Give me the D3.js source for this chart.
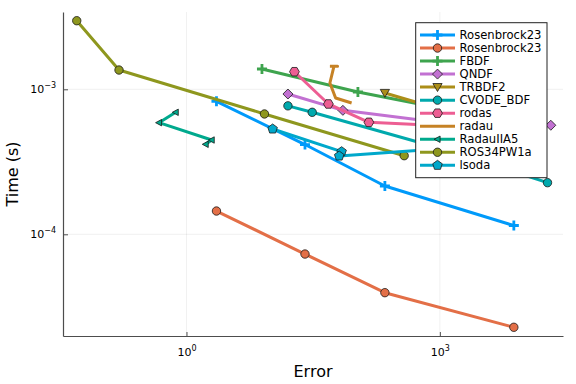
<!DOCTYPE html>
<html>
<head>
<meta charset="utf-8">
<script src="https://cdn.jsdelivr.net/npm/d3@7"></script>
<style>
  html, body { margin: 0; padding: 0; background: #fff; }
  svg { display: block; font-family: "DejaVu Sans", sans-serif; }
</style>
</head>
<body>
<svg id="chart" width="576" height="384"></svg>
<script>
// ---- Data ----
const seriesNames = ["Rosenbrock23", "Rosenbrock23", "FBDF", "QNDF", "TRBDF2", "CVODE_BDF", "rodas", "radau", "RadauIIA5", "ROS34PW1a", "lsoda"];
const seriesColors = ["#009AFA", "#E36F47", "#3EA44E", "#C271D2", "#AC8E18", "#00A9AD", "#ED5E93", "#C68225", "#00A98D", "#8E971E", "#00A8CB"];
const seriesMarkers = ["cross", "circle", "cross", "diamond", "dtriangle", "circle", "hexagon", "none", "ltriangle", "circle", "pentagon"];

const errRosenbrock23a = [2.265, 25.3, 223.4, 7516];
const timeRosenbrock23a = [8.26e-4, 4.16e-4, 2.153e-4, 1.150e-4];
const errRosenbrock23b = [2.265, 25.3, 223.4, 7516];
const timeRosenbrock23b = [1.447e-4, 7.31e-5, 3.957e-5, 2.284e-5];
const errFBDF = [7.83, 107.1, 1313, 6735];
const timeFBDF = [1.380e-3, 9.58e-4, 7.20e-4, 6.34e-4];
const errQNDF = [15.89, 71.1, 1725, 20590];
const timeQNDF = [9.28e-4, 7.16e-4, 5.67e-4, 5.65e-4];
const errTRBDF2 = [223.4, 1725, 8850];
const timeTRBDF2 = [9.43e-4, 6.65e-4, 5.67e-4];
const errCVODE = [15.89, 30.8, 1313, 18820];
const timeCVODE = [7.69e-4, 6.94e-4, 3.755e-4, 2.270e-4];
const errRodas = [18.97, 47.9, 144.5, 2265];
const timeRodas = [1.322e-3, 7.92e-4, 5.92e-4, 5.50e-4];
const errRadau = [49.9, 61.5, 55.7, 49.9, 58.3, 90.2];
const timeRadau = [1.441e-3, 1.441e-3, 1.441e-3, 1.105e-3, 8.71e-4, 8.04e-4];
const errRadauIIA5 = [0.745, 0.4726, 1.987, 1.687];
const timeRadauIIA5 = [6.94e-4, 5.885e-4, 4.47e-4, 4.175e-4];
const errROS34 = [0.0502, 0.1589, 8.38, 378];
const timeROS34 = [2.972e-3, 1.358e-3, 6.76e-4, 3.484e-4];
const errLsoda = [10.47, 68.65, 64.3, 2975];
const timeLsoda = [5.325e-4, 3.713e-4, 3.467e-4, 4.064e-4];

const xTickValues = [1, 1000];
const xTickExponents = ["0", "3"];
const yTickValues = [1e-3, 1e-4];
const yTickExponents = ["\u22123", "\u22124"];
const xLabel = "Error";
const yLabel = "Time (s)";

const allErr = [errRosenbrock23a, errRosenbrock23b, errFBDF, errQNDF, errTRBDF2, errCVODE, errRodas, errRadau, errRadauIIA5, errROS34, errLsoda];
const allTime = [timeRosenbrock23a, timeRosenbrock23b, timeFBDF, timeQNDF, timeTRBDF2, timeCVODE, timeRodas, timeRadau, timeRadauIIA5, timeROS34, timeLsoda];

const series = seriesNames.map((name, i) => ({
  name, color: seriesColors[i], marker: seriesMarkers[i],
  points: allErr[i].map((e, j) => ({ x: e, y: allTime[i][j] }))
}));

// ---- Layout ----
const L = 63, R = 563, T = 12, B = 336;
const svg = d3.select("#chart");
svg.append("rect").attr("width", 576).attr("height", 384).attr("fill", "#fff");

const x = d3.scaleLog().domain([Math.pow(10, -1.462), Math.pow(10, 4.458)]).range([L, R]);
const y = d3.scaleLog().domain([Math.pow(10, -4.7014), Math.pow(10, -2.4669)]).range([B, T]);

// grid
const grid = svg.append("g");
grid.selectAll("line.gx").data(xTickValues).enter().append("line")
  .attr("x1", d => x(d)).attr("x2", d => x(d)).attr("y1", T).attr("y2", B)
  .attr("stroke", "#000").attr("stroke-opacity", 0.1).attr("stroke-width", 0.6);
grid.selectAll("line.gy").data(yTickValues).enter().append("line")
  .attr("y1", d => y(d)).attr("y2", d => y(d)).attr("x1", L).attr("x2", R)
  .attr("stroke", "#000").attr("stroke-opacity", 0.1).attr("stroke-width", 0.6);

// axes
const xAxis = svg.append("g").attr("transform", `translate(0,${B})`)
  .call(d3.axisBottom(x).tickValues(xTickValues).tickSizeInner(-4).tickSizeOuter(0).tickPadding(12));
const yAxis = svg.append("g").attr("transform", `translate(${L},0)`)
  .call(d3.axisLeft(y).tickValues(yTickValues).tickSizeInner(-5).tickSizeOuter(0).tickPadding(7));

[xAxis, yAxis].forEach(ax => {
  ax.select(".domain").attr("stroke", "#4d4d4d").attr("stroke-width", 1.2);
  ax.selectAll(".tick line").attr("stroke", "#4d4d4d").attr("stroke-width", 1);
  ax.selectAll(".tick text").attr("font-size", 11).attr("fill", "#000").attr("font-family", "DejaVu Sans");
});
xAxis.selectAll(".tick text").each(function(d, i) {
  const t = d3.select(this); t.text("");
  t.append("tspan").text("10");
  t.append("tspan").attr("dy", -5).attr("font-size", 8).text(xTickExponents[i]);
});
yAxis.selectAll(".tick text").each(function(d, i) {
  const t = d3.select(this); t.text("");
  t.append("tspan").text("10");
  t.append("tspan").attr("dy", -5).attr("font-size", 8).text(yTickExponents[i]);
});

// axis labels
svg.append("text").attr("x", (L + R) / 2).attr("y", 377).attr("text-anchor", "middle")
  .attr("font-size", 16).attr("fill", "#000").text(xLabel);
svg.append("text").attr("transform", `translate(18,${(T + B) / 2}) rotate(-90)`)
  .attr("text-anchor", "middle").attr("font-size", 16).attr("fill", "#000").text(yLabel);

// ---- marker shapes ----
function polygon(n, r, rot) {
  const pts = d3.range(n).map(k => {
    const a = rot + 2 * Math.PI * k / n;
    return [r * Math.cos(a), r * Math.sin(a)];
  });
  return "M" + pts.map(p => p[0].toFixed(2) + "," + p[1].toFixed(2)).join("L") + "Z";
}
function markerPath(m) {
  switch (m) {
    case "circle": return d3.symbol(d3.symbolCircle, Math.PI * 4.2 * 4.2)();
    case "cross": return "M-5,0H5M0,-5V5";
    case "diamond": return "M0,-5L5,0L0,5L-5,0Z";
    case "dtriangle": return "M-4.6,-3.6L4.6,-3.6L0,4.4Z";
    case "ltriangle": return "M-3.4,0L2.6,-3.2L2.6,3.2Z";
    case "hexagon": return polygon(6, 4.9, 0);
    case "pentagon": return polygon(5, 5, -Math.PI / 2);
  }
  return null;
}
function drawMarker(g, m, color) {
  const p = markerPath(m);
  if (!p) return;
  if (m === "cross") {
    g.append("path").attr("d", p).attr("stroke", color).attr("stroke-width", 2.8).attr("fill", "none");
  } else {
    g.append("path").attr("d", p).attr("fill", color).attr("stroke", "#1a1a1a").attr("stroke-width", 0.8);
  }
}

// ---- series ----
const plot = svg.append("g");
const line = d3.line().x(d => x(d.x)).y(d => y(d.y));
series.forEach(s => {
  const g = plot.append("g");
  g.append("path").datum(s.points).attr("d", line)
    .attr("fill", "none").attr("stroke", s.color).attr("stroke-width", 3)
    .attr("stroke-linejoin", "round");
  s.points.forEach(p => {
    if (s.marker === "none") return;
    const mg = g.append("g").attr("transform", `translate(${x(p.x)},${y(p.y)})`);
    drawMarker(mg, s.marker, s.color);
  });
});

// ---- legend ----
const lg = svg.append("g");
lg.append("rect").attr("x", 415.7).attr("y", 22.7).attr("width", 131.3).attr("height", 155)
  .attr("fill", "#fff").attr("stroke", "#222").attr("stroke-width", 1);
series.forEach((s, i) => {
  const yy = 35 + i * 13.03;
  lg.append("line").attr("x1", 420).attr("x2", 455).attr("y1", yy).attr("y2", yy)
    .attr("stroke", s.color).attr("stroke-width", 3);
  const mg = lg.append("g").attr("transform", `translate(437.5,${yy})`);
  drawMarker(mg, s.marker, s.color);
  lg.append("text").attr("x", 459.5).attr("y", yy).attr("dy", "0.36em")
    .attr("font-size", 11.6).attr("fill", "#000").text(s.name);
});
</script>
</body>
</html>
